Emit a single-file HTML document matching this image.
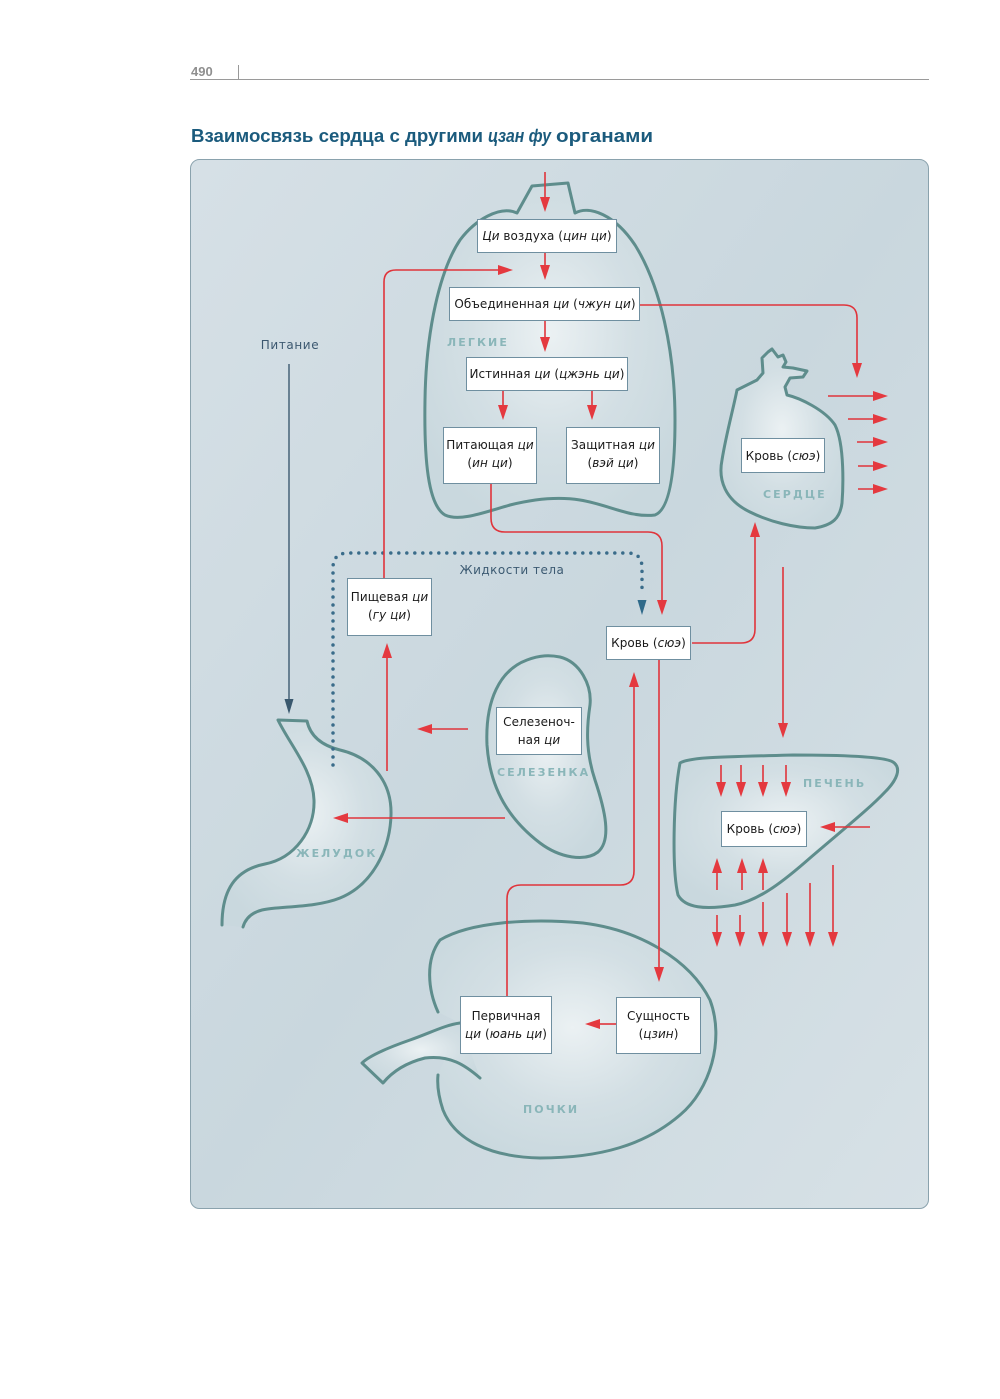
<!DOCTYPE html>
<html>
<head>
<meta charset="utf-8">
<style>
html,body{margin:0;padding:0;background:#fff;}
svg{display:block;}
.bx{fill:#fff;stroke:#6f8fa0;stroke-width:1;}
.t{font-family:"DejaVu Sans","Liberation Sans",sans-serif;font-size:12px;fill:#1a1a1a;letter-spacing:0.05px;text-anchor:middle;}
.i{font-style:italic;}
.lb{font-family:"DejaVu Sans","Liberation Sans",sans-serif;font-size:11px;font-weight:bold;fill:#8ab6b9;letter-spacing:2.1px;}
.org{fill:url(#og);stroke:none;}
.ol{fill:none;stroke:#5e8d8c;stroke-width:3;stroke-linejoin:round;stroke-linecap:round;}
.r{fill:none;stroke:#e0343b;stroke-width:1.6;}
.ah{fill:#e4393f;}
</style>
</head>
<body>
<svg width="1000" height="1399" viewBox="0 0 1000 1399" xmlns="http://www.w3.org/2000/svg">
<defs>
<linearGradient id="pg" x1="0" y1="0" x2="1" y2="1">
<stop offset="0" stop-color="#d6e0e6"/>
<stop offset="0.5" stop-color="#c9d7de"/>
<stop offset="1" stop-color="#d7e1e6"/>
</linearGradient>
<radialGradient id="og" cx="50%" cy="45%" r="60%">
<stop offset="0" stop-color="#ebf1f3"/>
<stop offset="0.55" stop-color="#d3dfe4"/>
<stop offset="1" stop-color="#c9d8de"/>
</radialGradient>
</defs>

<!-- header -->
<text x="191" y="76" font-family="Liberation Sans, sans-serif" font-size="13" font-weight="bold" fill="#8f8f8f">490</text>
<line x1="238.5" y1="65" x2="238.5" y2="79" stroke="#999" stroke-width="1"/>
<line x1="190" y1="79.5" x2="929" y2="79.5" stroke="#9a9a9a" stroke-width="1"/>

<text x="191" y="142" font-family="Liberation Sans, sans-serif" font-weight="bold" font-size="18" fill="#1b5b7d" textLength="292" lengthAdjust="spacingAndGlyphs">Взаимосвязь сердца с другими</text>
<text x="488" y="142" font-family="Liberation Sans, sans-serif" font-weight="bold" font-style="italic" font-size="18" fill="#1b5b7d" textLength="63" lengthAdjust="spacingAndGlyphs">цзан фу</text>
<text x="556" y="142" font-family="Liberation Sans, sans-serif" font-weight="bold" font-size="18" fill="#1b5b7d" textLength="97" lengthAdjust="spacingAndGlyphs">органами</text>

<!-- panel -->
<rect x="190.5" y="159.5" width="738" height="1049" rx="9" ry="9" fill="url(#pg)" stroke="#8aa2ad" stroke-width="1"/>

<!-- LUNGS -->
<path class="org" d="M517,213 L532,186 L568,183 L575,213 C590,205 615,215 635,245 C660,285 675,350 675,420 C675,480 668,510 655,515 C630,518 610,505 580,500 C555,496 530,500 510,505 C485,512 460,522 445,515 C428,505 424,460 425,400 C426,330 440,270 460,240 C475,220 500,205 517,213 Z"/>
<path class="ol" d="M517,213 L532,186 L568,183 L575,213 C590,205 615,215 635,245 C660,285 675,350 675,420 C675,480 668,510 655,515 C630,518 610,505 580,500 C555,496 530,500 510,505 C485,512 460,522 445,515 C428,505 424,460 425,400 C426,330 440,270 460,240 C475,220 500,205 517,213 Z"/>

<!-- HEART -->
<path class="org" d="M737,390 L747,385 L757,380 L763,373 L762,358 L768,352 L772,349 L778,357 L783,355 L786,362 L783,367 L793,368 L807,371 L803,377 L790,378 L785,387 L787,395 C800,398 825,410 835,425 C845,445 843,490 842,503 C840,518 833,525 815,528 C795,528 770,522 750,512 C725,500 718,480 722,460 C726,435 733,410 737,390 Z"/>
<path class="ol" d="M737,390 L747,385 L757,380 L763,373 L762,358 L768,352 L772,349 L778,357 L783,355 L786,362 L783,367 L793,368 L807,371 L803,377 L790,378 L785,387 L787,395 C800,398 825,410 835,425 C845,445 843,490 842,503 C840,518 833,525 815,528 C795,528 770,522 750,512 C725,500 718,480 722,460 C726,435 733,410 737,390 Z"/>

<!-- SPLEEN -->
<path class="org" d="M560,657 C580,662 592,685 590,705 C587,725 585,750 595,780 C605,810 612,840 598,852 C585,862 560,858 540,843 C510,820 490,790 487,745 C485,700 500,670 527,660 C540,655 550,655 560,657 Z"/>
<path class="ol" d="M560,657 C580,662 592,685 590,705 C587,725 585,750 595,780 C605,810 612,840 598,852 C585,862 560,858 540,843 C510,820 490,790 487,745 C485,700 500,670 527,660 C540,655 550,655 560,657 Z"/>

<!-- STOMACH -->
<path class="org" d="M222,925 C222,890 235,870 265,864 C295,858 315,830 314,800 C313,770 290,745 278,720 L307,721 C310,735 320,745 340,750 C370,757 392,780 391,815 C390,850 372,885 340,898 C315,908 280,906 262,910 C250,913 245,920 243,927 Z"/>
<path class="ol" d="M222,925 C222,890 235,870 265,864 C295,858 315,830 314,800 C313,770 290,745 278,720 L307,721 C310,735 320,745 340,750 C370,757 392,780 391,815 C390,850 372,885 340,898 C315,908 280,906 262,910 C250,913 245,920 243,927"/>

<!-- LIVER -->
<path class="org" d="M680,763 C690,757 720,757 793,755 C850,755 885,757 893,762 C902,768 897,780 885,792 C870,808 845,828 810,858 C785,880 760,900 735,905 C705,910 685,908 678,895 C672,870 673,800 680,763 Z"/>
<path class="ol" d="M680,763 C690,757 720,757 793,755 C850,755 885,757 893,762 C902,768 897,780 885,792 C870,808 845,828 810,858 C785,880 760,900 735,905 C705,910 685,908 678,895 C672,870 673,800 680,763 Z"/>

<!-- KIDNEY -->
<path class="org" d="M438,1012 C428,990 425,960 440,940 C470,922 530,918 583,923 C640,930 690,960 710,1000 C725,1040 710,1090 680,1115 C645,1145 600,1158 540,1158 C490,1157 455,1140 443,1110 C438,1095 437,1085 438,1075 L460,1023 Z"/>
<path class="org" d="M460,1023 C445,1025 430,1033 410,1040 C390,1047 370,1055 362,1063 L383,1083 C392,1072 405,1063 425,1058 C450,1055 465,1065 480,1078 Z"/>
<path class="ol" d="M438,1012 C428,990 425,960 440,940 C470,922 530,918 583,923 C640,930 690,960 710,1000 C725,1040 710,1090 680,1115 C645,1145 600,1158 540,1158 C490,1157 455,1140 443,1110 C438,1095 437,1085 438,1075"/>
<path class="ol" d="M460,1023 C445,1025 430,1033 410,1040 C390,1047 370,1055 362,1063 L383,1083 C392,1072 405,1063 425,1058 C450,1055 465,1065 480,1078"/>

<!-- Organ labels -->
<text class="lb" x="447" y="346">ЛЕГКИЕ</text>
<text class="lb" x="763" y="498">СЕРДЦЕ</text>
<text class="lb" x="497" y="776">СЕЛЕЗЕНКА</text>
<text class="lb" x="296" y="857">ЖЕЛУДОК</text>
<text class="lb" x="803" y="787">ПЕЧЕНЬ</text>
<text class="lb" x="523" y="1113">ПОЧКИ</text>

<!-- Питание -->
<text x="290" y="349" font-family="DejaVu Sans, sans-serif" font-size="12" fill="#3c5870" text-anchor="middle" letter-spacing="0.6">Питание</text>
<line x1="289" y1="364" x2="289" y2="700" stroke="#3d5a70" stroke-width="1.4"/>
<polygon points="284.5,699 293.5,699 289,714" fill="#3a586e"/>

<!-- Жидкости тела dotted -->
<text x="512" y="574" font-family="DejaVu Sans, sans-serif" font-size="12" fill="#3c5a72" text-anchor="middle" letter-spacing="0.5">Жидкости тела</text>
<path d="M333,765 V568 Q333,553 348,553 H628 Q642,553 642,568 V592" fill="none" stroke="#3a6c8a" stroke-width="3.5" stroke-linecap="round" stroke-dasharray="0 8"/>
<polygon points="637.5,600 646.5,600 642,615" fill="#2f6a8a"/>

<!-- red connectors -->
<path class="r" d="M545,172 V197"/>
<polygon class="ah" points="540,197 550,197 545,212"/>
<path class="r" d="M545,253 V265"/>
<polygon class="ah" points="540,265 550,265 545,280"/>
<path class="r" d="M384,578 V282 Q384,270 396,270 H498"/>
<polygon class="ah" points="498,265 498,275 513,270"/>
<path class="r" d="M545,321 V337"/>
<polygon class="ah" points="540,337 550,337 545,352"/>
<path class="r" d="M503,391 V405 M592,391 V405"/>
<polygon class="ah" points="498,405 508,405 503,420"/>
<polygon class="ah" points="587,405 597,405 592,420"/>
<path class="r" d="M640,305 H844 Q857,305 857,318 V363"/>
<polygon class="ah" points="852,363 862,363 857,378"/>
<path class="r" d="M491,484 V518 Q491,532 505,532 H648 Q662,532 662,546 V600"/>
<polygon class="ah" points="657,600 667,600 662,615"/>

<!-- heart outgoing -->
<path class="r" d="M828,396 H873 M848,419 H873 M857,442 H873 M858,466 H873 M858,489 H873"/>
<polygon class="ah" points="873,391 873,401 888,396"/>
<polygon class="ah" points="873,414 873,424 888,419"/>
<polygon class="ah" points="873,437 873,447 888,442"/>
<polygon class="ah" points="873,461 873,471 888,466"/>
<polygon class="ah" points="873,484 873,494 888,489"/>

<!-- blood to heart -->
<path class="r" d="M692,643 H741 Q755,643 755,629 V537"/>
<polygon class="ah" points="750,537 760,537 755,522"/>
<!-- heart to liver -->
<path class="r" d="M783,567 V723"/>
<polygon class="ah" points="778,723 788,723 783,738"/>
<!-- blood down to kidney -->
<path class="r" d="M659,660 V967"/>
<polygon class="ah" points="654,967 664,967 659,982"/>
<!-- kidney up to blood -->
<path class="r" d="M507,996 V899 Q507,885 521,885 H620 Q634,885 634,871 V687"/>
<polygon class="ah" points="629,687 639,687 634,672"/>
<!-- stomach up to food qi -->
<path class="r" d="M387,771 V658"/>
<polygon class="ah" points="382,658 392,658 387,643"/>
<!-- spleen arrows -->
<path class="r" d="M468,729 H432"/>
<polygon class="ah" points="432,724 432,734 417,729"/>
<path class="r" d="M505,818 H348"/>
<polygon class="ah" points="348,813 348,823 333,818"/>
<!-- kidney arrow -->
<path class="r" d="M616,1024 H600"/>
<polygon class="ah" points="600,1019 600,1029 585,1024"/>

<!-- liver arrows -->
<path class="r" d="M721,765 V782 M741,765 V782 M763,765 V782 M786,765 V782"/>
<polygon class="ah" points="716,782 726,782 721,797"/>
<polygon class="ah" points="736,782 746,782 741,797"/>
<polygon class="ah" points="758,782 768,782 763,797"/>
<polygon class="ah" points="781,782 791,782 786,797"/>
<path class="r" d="M870,827 H835"/>
<polygon class="ah" points="835,822 835,832 820,827"/>
<path class="r" d="M717,890 V873 M742,890 V873 M763,890 V873"/>
<polygon class="ah" points="712,873 722,873 717,858"/>
<polygon class="ah" points="737,873 747,873 742,858"/>
<polygon class="ah" points="758,873 768,873 763,858"/>
<path class="r" d="M717,915 V932 M740,915 V932 M763,902 V932 M787,893 V932 M810,883 V932 M833,865 V932"/>
<polygon class="ah" points="712,932 722,932 717,947"/>
<polygon class="ah" points="735,932 745,932 740,947"/>
<polygon class="ah" points="758,932 768,932 763,947"/>
<polygon class="ah" points="782,932 792,932 787,947"/>
<polygon class="ah" points="805,932 815,932 810,947"/>
<polygon class="ah" points="828,932 838,932 833,947"/>

<!-- BOXES -->
<rect class="bx" x="477.5" y="219.5" width="139" height="33"/>
<text class="t" x="547" y="240"><tspan class="i">Ци</tspan> воздуха (<tspan class="i">цин ци</tspan>)</text>

<rect class="bx" x="449.5" y="287.5" width="190" height="33"/>
<text class="t" x="545" y="308">Объединенная <tspan class="i">ци</tspan> (<tspan class="i">чжун ци</tspan>)</text>

<rect class="bx" x="466.5" y="357.5" width="161" height="33"/>
<text class="t" x="547" y="378">Истинная <tspan class="i">ци</tspan> (<tspan class="i">цжэнь ци</tspan>)</text>

<rect class="bx" x="443.5" y="427.5" width="93" height="56"/>
<text class="t" x="490" y="449">Питающая <tspan class="i">ци</tspan></text>
<text class="t" x="490" y="467">(<tspan class="i">ин ци</tspan>)</text>

<rect class="bx" x="566.5" y="427.5" width="93" height="56"/>
<text class="t" x="613" y="449">Защитная <tspan class="i">ци</tspan></text>
<text class="t" x="613" y="467">(<tspan class="i">вэй ци</tspan>)</text>

<rect class="bx" x="347.5" y="578.5" width="84" height="57"/>
<text class="t" x="389.5" y="601">Пищевая <tspan class="i">ци</tspan></text>
<text class="t" x="389.5" y="619">(<tspan class="i">гу ци</tspan>)</text>

<rect class="bx" x="606.5" y="626.5" width="84" height="33"/>
<text class="t" x="648.5" y="647">Кровь (<tspan class="i">сюэ</tspan>)</text>

<rect class="bx" x="741.5" y="438.5" width="83" height="34"/>
<text class="t" x="783" y="460">Кровь (<tspan class="i">сюэ</tspan>)</text>

<rect class="bx" x="496.5" y="707.5" width="85" height="47"/>
<text class="t" x="539" y="726">Селезеноч-</text>
<text class="t" x="539" y="744">ная <tspan class="i">ци</tspan></text>

<rect class="bx" x="721.5" y="811.5" width="85" height="35"/>
<text class="t" x="764" y="833">Кровь (<tspan class="i">сюэ</tspan>)</text>

<rect class="bx" x="460.5" y="996.5" width="91" height="57"/>
<text class="t" x="506" y="1020">Первичная</text>
<text class="t" x="506" y="1038"><tspan class="i">ци</tspan> (<tspan class="i">юань ци</tspan>)</text>

<rect class="bx" x="616.5" y="997.5" width="84" height="56"/>
<text class="t" x="658.5" y="1020">Сущность</text>
<text class="t" x="658.5" y="1038">(<tspan class="i">цзин</tspan>)</text>
</svg>
</body>
</html>
